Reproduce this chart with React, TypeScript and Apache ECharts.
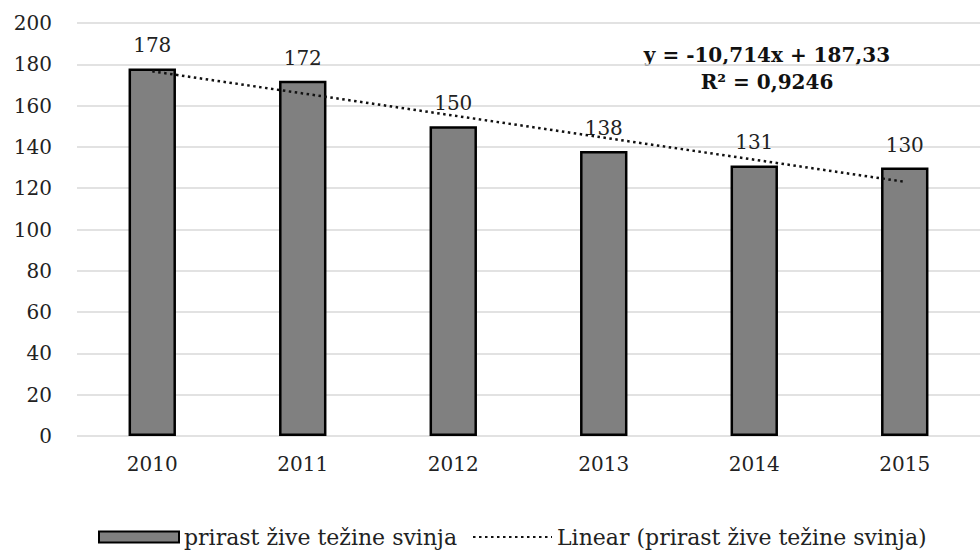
import React, { useEffect, useRef } from "react";
import * as echarts from "echarts";

const categories = ["2010", "2011", "2012", "2013", "2014", "2015"];
const barValues = [178, 172, 150, 138, 131, 130];
const trendValues = [176.6, 165.9, 155.2, 144.5, 133.8, 123.1];
const barName = "prirast žive težine svinja";
const trendName = "Linear (prirast žive težine svinja)";
const equationLines = ["y = -10,714x + 187,33", "R² = 0,9246"];

const FONT = "DejaVu Serif";
const TXT = "#222222";

export default function App() {
  const ref = useRef<HTMLDivElement>(null);
  useEffect(() => {
    if (!ref.current) return;
    const chart = echarts.init(ref.current, undefined, { renderer: "svg" });
    chart.setOption({
      animation: false,
      backgroundColor: "#ffffff",
      textStyle: { fontFamily: FONT },
      grid: { left: 77, right: -13, top: 23, bottom: 114, containLabel: false },
      xAxis: {
        type: "category",
        data: categories,
        axisLine: { show: false },
        axisTick: { show: false },
        axisLabel: { color: TXT, fontSize: 20, fontFamily: FONT, margin: 18 },
      },
      yAxis: {
        type: "value",
        min: 0,
        max: 200,
        interval: 20,
        axisLine: { show: false },
        axisTick: { show: false },
        axisLabel: { color: TXT, fontSize: 20, fontFamily: FONT, margin: 25 },
        splitLine: { lineStyle: { color: "#d9d9d9", width: 1.5 } },
      },
      legend: [
        {
          data: [{ name: barName, icon: "rect" }],
          left: 98,
          top: 526,
          padding: 0,
          itemWidth: 80,
          itemHeight: 11,
          textStyle: { fontSize: 22, color: TXT, fontFamily: FONT },
        },
        {
          data: [{ name: trendName }],
          left: 472,
          top: 526,
          padding: 0,
          itemWidth: 79,
          itemHeight: 11,
          itemStyle: { opacity: 0 },
          textStyle: { fontSize: 22, color: TXT, fontFamily: FONT },
        },
      ],
      graphic: [
        {
          type: "text",
          x: 767,
          y: 55,
          style: {
            text: equationLines[0],
            fontFamily: FONT,
            fontSize: 20,
            fontWeight: "bold",
            fill: "#111",
            align: "center",
            verticalAlign: "middle",
          },
        },
        {
          type: "text",
          x: 767,
          y: 82,
          style: {
            text: equationLines[1],
            fontFamily: FONT,
            fontSize: 20,
            fontWeight: "bold",
            fill: "#111",
            align: "center",
            verticalAlign: "middle",
          },
        },
      ],
      series: [
        {
          name: barName,
          type: "bar",
          data: barValues,
          barWidth: "31.5%",
          itemStyle: { color: "#808080", borderColor: "#000", borderWidth: 2.5 },
          label: {
            show: true,
            position: "top",
            distance: 13,
            fontSize: 20,
            color: TXT,
            fontFamily: FONT,
          },
        },
        {
          name: trendName,
          type: "line",
          data: trendValues,
          symbol: "none",
          z: 5,
          lineStyle: { color: "#111", width: 2.5, type: [2.5, 3.5] },
        },
      ],
    });
    return () => chart.dispose();
  }, []);
  return <div ref={ref} style={{ width: 980, height: 550, position: "absolute", left: 0, top: 0 }} />;
}
